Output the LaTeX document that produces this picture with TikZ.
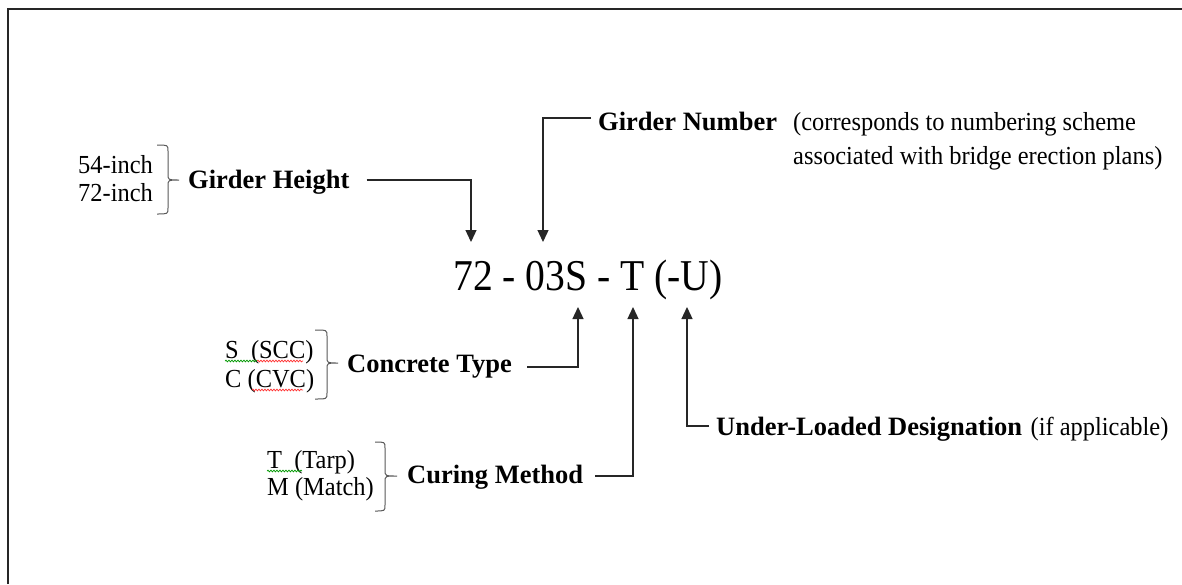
\documentclass[tikz,border=0pt]{standalone}
\usepackage{fontspec}
\usepackage{graphicx}
\setmainfont{Liberation Serif}
\usetikzlibrary{arrows.meta,decorations.pathmorphing}
\newcommand\cnd[1]{\scalebox{0.94}[1]{#1}}
\begin{document}
\begin{tikzpicture}[x=1pt,y=-1pt,
  lbl/.style={inner sep=0pt, anchor=base west, font=\fontsize{26.5}{30}\selectfont\bfseries},
  reg/.style={inner sep=0pt, anchor=base west, font=\fontsize{26}{30}\selectfont},
  code/.style={inner sep=0pt, anchor=base west, font=\fontsize{44}{50}\selectfont},
  arr/.style={draw=black!85, line width=1.3pt, -{Triangle[length=12pt,width=11pt]}},
  brc/.style={draw=black!65, line width=1pt},
  frame/.style={draw=black!85, line width=2pt},
  squig/.style={line width=0.7pt, decorate, decoration={snake, amplitude=0.9pt, segment length=3pt}}
]
\useasboundingbox (0,0) rectangle (1182,584);
\fill[white] (0,0) rectangle (1182,584);
% frame (open at right and bottom)
\draw[frame] (8,584) -- (8,9) -- (1182,9);

% main code
\node[code] (main) at (453,290) {\scalebox{0.9}[1]{72 - 03S - T (-U)}};
\coordinate (t72) at (471,242);
\coordinate (t03) at (543,242);
\coordinate (tS) at (578,307);
\coordinate (tT) at (633,307);
\coordinate (tU) at (687,307);

% Girder height
\node[reg] (h54) at (78,173) {\cnd{54-inch}};
\node[reg] (h72) at (78,201) {\cnd{72-inch}};
\draw[brc] (157,145) .. controls (168,145) .. (168,151) -- (168,174) .. controls (168,180) .. (179,180)
  .. controls (168,180) .. (168,186) -- (168,208) .. controls (168,214) .. (157,214);
\node[lbl] (GH) at (188,188) {Girder Height};
\draw[arr] ([xshift=17pt,yshift=8pt]GH.base east) -| (t72);

% Girder number
\node[lbl] (GN) at (598,130) {Girder Number};
\node[reg] (gn1) at (793,130) {\cnd{(corresponds to numbering scheme}};
\node[reg] (gn2) at (793,164) {\cnd{associated with bridge erection plans)}};
\draw[arr] ([xshift=-7pt,yshift=12pt]GN.base west) -| (t03);

% Concrete type
\node[reg] (cs) at (225,358) {\cnd{S\ \ (SCC)}};
\node[reg] (cc) at (225,387) {\cnd{C (CVC)}};
\draw[squig, draw=green!60!black] (225,361) -- (257,361);
\draw[squig, draw=red!80] (257,361) -- (303,361);
\draw[squig, draw=red!80] (252,390) -- (303,390);
\draw[brc] (315,330) .. controls (327,330) .. (327,336) -- (327,357) .. controls (327,363) .. (338,363)
  .. controls (327,363) .. (327,369) -- (327,393) .. controls (327,399) .. (315,399);
\node[lbl] (CT) at (347,372) {Concrete Type};
\draw[arr] ([xshift=15pt,yshift=5pt]CT.base east) -| (tS);

% Curing method
\node[reg] (ct) at (267,468) {\cnd{T\ \ (Tarp)}};
\node[reg] (cm) at (267,495) {\cnd{M (Match)}};
\draw[squig, draw=green!60!black] (267,471) -- (302,471);
\draw[brc] (375,442) .. controls (385,442) .. (385,448) -- (385,470) .. controls (385,476) .. (397,476)
  .. controls (385,476) .. (385,482) -- (385,505) .. controls (385,511) .. (375,511);
\node[lbl] (CM) at (407,483) {Curing Method};
\draw[arr] ([xshift=12pt,yshift=7pt]CM.base east) -| (tT);

% Under-loaded
\node[lbl] (UL) at (716,435) {Under-Loaded Designation};
\node[reg] (ifa) at ([xshift=8pt]UL.base east) {\cnd{(if applicable)}};
\draw[arr] ([xshift=-7pt,yshift=9pt]UL.base west) -| (tU);
\end{tikzpicture}
\end{document}
